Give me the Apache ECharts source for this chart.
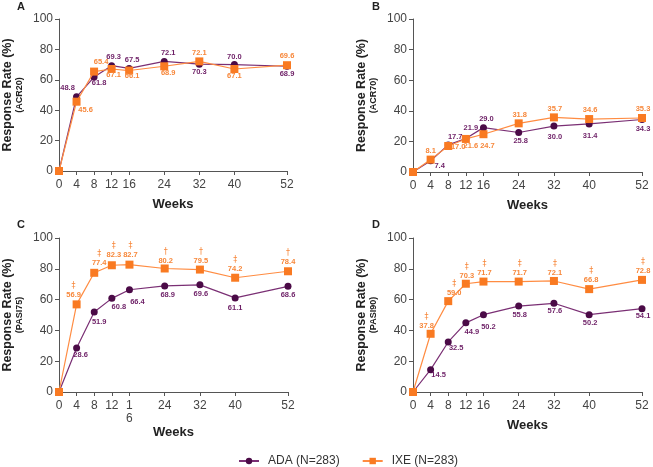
<!DOCTYPE html>
<html>
<head>
<meta charset="utf-8">
<script src="https://cdn.jsdelivr.net/npm/echarts@6/dist/echarts.min.js"></script>
<style>
html,body{margin:0;padding:0;background:#fff;}
#chart{width:653px;height:467px;}
</style>
</head>
<body>
<div id="chart"></div>
<script>
// ---- data ----
var weeks = [0, 4, 8, 12, 16, 24, 32, 40, 52];
var seriesNames = ['ADA (N=283)', 'IXE (N=283)'];
var panelLetters = ['A', 'B', 'C', 'D'];
var panelMeasures = ['(ACR20)', '(ACR70)', '(PASI75)', '(PASI90)'];
var yTicks = [0, 20, 40, 60, 80, 100];

var acr20Ada = [0, 48.8, 61.8, 69.3, 67.5, 72.1, 70.3, 70.0, 68.9];
var acr20Ixe = [0, 45.6, 65.4, 67.1, 66.1, 68.9, 72.1, 67.1, 69.6];
var acr70Ada = [0, 7.4, 17.7, 21.9, 29.0, 25.8, 30.0, 31.4, 34.3];
var acr70Ixe = [0, 8.1, 17.0, 21.6, 24.7, 31.8, 35.7, 34.6, 35.3];
var pasi75Ada = [0, 28.6, 51.9, 60.8, 66.4, 68.9, 69.6, 61.1, 68.6];
var pasi75Ixe = [0, 56.9, 77.4, 82.3, 82.7, 80.2, 79.5, 74.2, 78.4];
var pasi90Ada = [0, 14.5, 32.5, 44.9, 50.2, 55.8, 57.6, 50.2, 54.1];
var pasi90Ixe = [0, 37.8, 59.0, 70.3, 71.7, 71.7, 72.1, 66.8, 72.8];
var pasi75Sig = ['', '‡', '‡', '‡', '‡', '†', '†', '‡', '†'];
var pasi90Sig = ['', '‡', '‡', '‡', '‡', '‡', '‡', '‡', '‡'];

// ---- label placement (style, offsets of label centre from point) ----
var offA_ada = [null, [-9,-9], [5,6], [2,-9], [3,-8], [4,-8], [0,8], [0,-8], [0,8]];
var offA_ixe = [null, [9,8], [7,-10], [2,6], [3,5], [4,7], [0,-8], [0,7], [0,-9]];
var offB_ada = [null, [9,5], [7,-8], [5,-11], [3,-9], [2,8], [1,11], [1,12], [1,9]];
var offB_ixe = [null, [0,-9], [10,1], [5,7], [4,12], [1,-8], [1,-8], [1,-9], [1,-9]];
var offC_ada = [null, [4,7], [5,10], [7,9], [8,12], [3,9], [1,9], [0,10], [0,9]];
var offC_ixe = [null, [-3,-9], [5,-10], [2,-10], [1,-10], [1,-8], [1,-9], [0,-9], [0,-9]];
var offD_ada = [null, [8,5], [8,6], [6,9], [5,12], [1,9], [1,8], [1,8], [1,7]];
var offD_ixe = [null, [-4,-8], [6,-8], [1,-8], [1,-9], [1,-9], [1,-8], [2,-9], [1,-9]];

var PURPLE_LINE = '#7a2f74';
var PURPLE_MARK = '#4b0b47';
var PURPLE_TEXT = '#6d1f66';
var ORANGE_LINE = '#ff8c42';
var ORANGE_MARK = '#f97a22';
var ORANGE_TEXT = '#f7873a';
var FONT = '"Liberation Sans", Arial, sans-serif';

var grids = [
  {left: 58, top: 19, width: 229, height: 152},
  {left: 413, top: 19, width: 229, height: 153},
  {left: 58, top: 238, width: 230, height: 154},
  {left: 413, top: 238, width: 229, height: 154}
];
var letterPos = [[17, 1], [372, 1], [17, 219], [372, 219]];

var panels = [
  {ada: acr20Ada, ixe: acr20Ixe, offAda: offA_ada, offIxe: offA_ixe, sig: null},
  {ada: acr70Ada, ixe: acr70Ixe, offAda: offB_ada, offIxe: offB_ixe, sig: null},
  {ada: pasi75Ada, ixe: pasi75Ixe, offAda: offC_ada, offIxe: offC_ixe, sig: pasi75Sig},
  {ada: pasi90Ada, ixe: pasi90Ixe, offAda: offD_ada, offIxe: offD_ixe, sig: pasi90Sig}
];

function buildData(vals, offs, color, sig) {
  return weeks.map(function (w, i) {
    var item = {value: [w, vals[i]]};
    if (i === 0) {
      item.label = {show: false};
    } else {
      var o = offs[i];
      var txt = vals[i].toFixed(1);
      var dy = o[1];
      if (sig && sig[i]) {
        txt = '{s|' + sig[i] + '}\n{v|' + txt + '}';
        dy = dy - 4.5;
      } else {
        txt = '{v|' + txt + '}';
      }
      item.label = {
        show: true,
        position: 'inside',
        offset: [o[0], dy],
        formatter: txt,
        rich: {
          v: {fontSize: 7.5, fontWeight: 'bold', color: color, fontFamily: FONT, lineHeight: 9},
          s: {fontSize: 8, color: color, fontFamily: 'DejaVu Sans, sans-serif', lineHeight: 9}
        }
      };
    }
    return item;
  });
}

var option = {
  backgroundColor: '#ffffff',
  animation: false,
  title: panelLetters.map(function (t, i) {
    return {text: t, left: letterPos[i][0], top: letterPos[i][1],
      textStyle: {fontSize: 11, fontWeight: 'bold', color: '#222', fontFamily: FONT}, padding: 0};
  }),
  legend: {
    data: seriesNames,
    left: 233,
    top: 450,
    itemWidth: 20,
    itemHeight: 8,
    itemGap: 22,
    textStyle: {fontSize: 12, color: '#333', fontFamily: FONT, padding: [0, 0, 0, 4]}
  },
  grid: grids,
  xAxis: grids.map(function (g, i) {
    return {
      type: 'value', gridIndex: i, min: 0, max: 52,
      name: 'Weeks', nameLocation: 'middle', nameGap: 27,
      nameTextStyle: {fontSize: 13, fontWeight: 'bold', color: '#222', fontFamily: FONT},
      splitLine: {show: false},
      axisLine: {lineStyle: {color: '#555', width: 1}},
      axisTick: {show: true, length: 4, customValues: weeks, lineStyle: {color: '#555'}},
      axisLabel: {
        customValues: weeks, fontSize: 12, color: '#444', fontFamily: FONT, margin: 7,
        lineHeight: 13,
        formatter: function (v) { return (i === 2 && v === 16) ? '1\n6' : String(v); }
      }
    };
  }),
  yAxis: grids.map(function (g, i) {
    return {
      type: 'value', gridIndex: i, min: 0, max: 100, interval: 20,
      name: '{a|Response Rate (%)}\n{b|' + panelMeasures[i] + '}',
      nameLocation: 'middle', nameGap: 34,
      nameTextStyle: {
        rich: {
          a: {fontSize: 12.5, fontWeight: 'bold', color: '#222', fontFamily: FONT, lineHeight: 13},
          b: {fontSize: 9, fontWeight: 'bold', color: '#222', fontFamily: FONT, lineHeight: 11}
        }
      },
      splitLine: {show: false},
      axisLine: {show: true, lineStyle: {color: '#555', width: 1}},
      axisTick: {show: true, length: 4, lineStyle: {color: '#555'}},
      axisLabel: {fontSize: 12, color: '#444', fontFamily: FONT, margin: 6}
    };
  }),
  series: []
};

panels.forEach(function (p, i) {
  option.series.push({
    name: seriesNames[0], type: 'line', xAxisIndex: i, yAxisIndex: i,
    symbol: 'circle', symbolSize: 7,
    lineStyle: {color: PURPLE_LINE, width: 1.2},
    itemStyle: {color: PURPLE_MARK},
    data: buildData(p.ada, p.offAda, PURPLE_TEXT, null),
    z: 2
  });
  option.series.push({
    name: seriesNames[1], type: 'line', xAxisIndex: i, yAxisIndex: i,
    symbol: 'rect', symbolSize: 8,
    lineStyle: {color: ORANGE_LINE, width: 1.2},
    itemStyle: {color: ORANGE_MARK},
    data: buildData(p.ixe, p.offIxe, ORANGE_TEXT, p.sig),
    z: 3
  });
});

var chart = echarts.init(document.getElementById('chart'), null, {renderer: 'canvas'});
chart.setOption(option);
</script>
</body>
</html>
